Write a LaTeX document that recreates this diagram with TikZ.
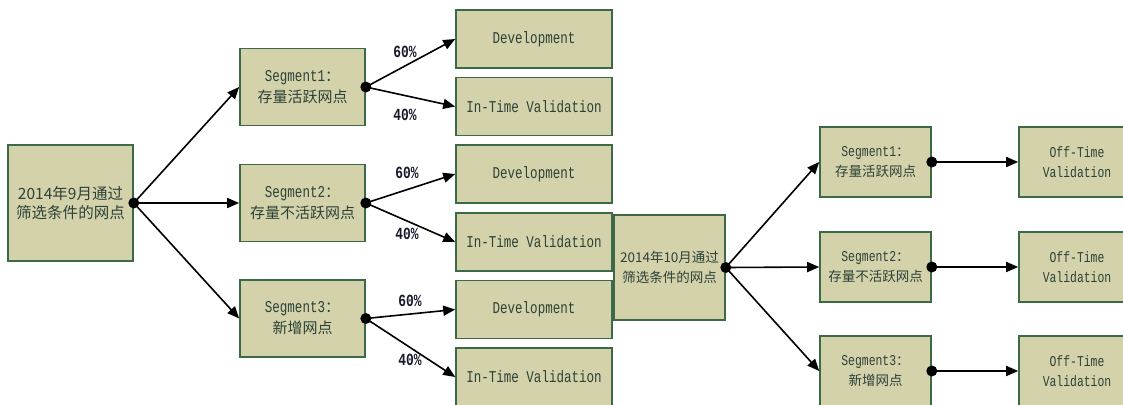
\documentclass[tikz,border=0pt]{standalone}
\usepackage{fontspec}
\newfontfamily\cjk{Noto Sans CJK SC}
\newfontfamily\lat[FakeStretch=0.76]{Liberation Mono}
\usetikzlibrary{arrows.meta}
\definecolor{boxfill}{RGB}{211,210,171}
\definecolor{boxline}{RGB}{60,105,70}
\definecolor{boxtext}{RGB}{45,65,55}
\definecolor{pctc}{RGB}{25,25,45}
\begin{document}
\begin{tikzpicture}[x=1pt,y=-1pt,
  box/.style={draw=boxline, fill=boxfill, line width=1.6pt, inner sep=0pt, align=center, text=boxtext},
  arr/.style={draw=black, line width=1.6pt, -{Triangle[length=12pt,width=10pt]}},
  dot/.style={circle, fill=black, inner sep=0pt, minimum size=11pt},
  pct/.style={font=\lat\bfseries\fontsize{17}{17}\selectfont, text=pctc, inner sep=0pt},
  root/.style={box, font=\cjk\fontsize{15.5}{19}\selectfont},
  seg/.style={box, minimum width=125pt, minimum height=77pt, font=\fontsize{16.5}{21}\selectfont},
  leaf/.style={box, minimum width=156pt, minimum height=58pt, font=\lat\fontsize{16.5}{18}\selectfont},
  segb/.style={box, minimum width=111pt, minimum height=70pt, font=\fontsize{15}{20}\selectfont},
  off/.style={box, minimum width=116pt, minimum height=70pt, font=\lat\fontsize{15}{20}\selectfont}]
\useasboundingbox (0,0) rectangle (1123,404);
\clip (0,0) rectangle (1123,404);

% left tree
\node[root, minimum width=125pt, minimum height=116pt] (r1) at (70.5,203) {2014年9月通过\\筛选条件的网点};
\node[seg] (s1) at (302.5,87) {{\lat Segment1}{\cjk\fontsize{15}{21}\selectfont ：}\\{\cjk\fontsize{15}{21}\selectfont 存量活跃网点}};
\node[seg] (s2) at (302.5,203) {{\lat Segment2}{\cjk\fontsize{15}{21}\selectfont ：}\\{\cjk\fontsize{15}{21}\selectfont 存量不活跃网点}};
\node[seg] (s3) at (302.5,318.5) {{\lat Segment3}{\cjk\fontsize{15}{21}\selectfont ：}\\{\cjk\fontsize{15}{21}\selectfont 新增网点}};
\node[leaf] (d1) at (534,39) {Development};
\node[leaf] (v1) at (534,106.5) {In-Time Validation};
\node[leaf] (d2) at (534,174) {Development};
\node[leaf] (v2) at (534,242) {In-Time Validation};
\node[leaf] (d3) at (534,309.5) {Development};
\node[leaf] (v3) at (534,377) {In-Time Validation};

\node[dot] (p0) at (r1.east) {};
\node[dot] (p1) at (s1.east) {};
\node[dot] (p2) at (s2.east) {};
\node[dot] (p3) at (s3.east) {};
\draw[arr] (p0.center) -- (s1.west);
\draw[arr] (p0.center) -- (s2.west);
\draw[arr] (p0.center) -- (s3.west);
\draw[arr] (p1.center) -- (d1.west);
\draw[arr] (p1.center) -- (v1.west);
\draw[arr] (p2.center) -- (d2.west);
\draw[arr] (p2.center) -- (v2.west);
\draw[arr] (p3.center) -- (d3.west);
\draw[arr] (p3.center) -- (v3.west);

\node[pct] (l1a) at (405,52) {60\%};
\node[pct] (l1b) at (405,115) {40\%};
\node[pct] (l2a) at (407,173) {60\%};
\node[pct] (l2b) at (407,234) {40\%};
\node[pct] (l3a) at (410,301) {60\%};
\node[pct] (l3b) at (410,360) {40\%};

% right tree
\node[root, minimum width=111pt, minimum height=105pt, font=\cjk\fontsize{13.5}{20}\selectfont] (r2) at (669.5,267.5) {2014年10月通过\\筛选条件的网点};
\node[segb] (t1) at (875.5,162) {{\lat Segment1}{\cjk\fontsize{13.5}{20}\selectfont ：}\\{\cjk\fontsize{13.5}{20}\selectfont 存量活跃网点}};
\node[segb] (t2) at (875.5,267) {{\lat Segment2}{\cjk\fontsize{13.5}{20}\selectfont ：}\\{\cjk\fontsize{13.5}{20}\selectfont 存量不活跃网点}};
\node[segb] (t3) at (875.5,371) {{\lat Segment3}{\cjk\fontsize{13.5}{20}\selectfont ：}\\{\cjk\fontsize{13.5}{20}\selectfont 新增网点}};
\node[off] (o1) at (1077,162) {Off-Time\\Validation};
\node[off] (o2) at (1077,267) {Off-Time\\Validation};
\node[off] (o3) at (1077,371) {Off-Time\\Validation};

\node[dot] (q0) at (r2.east) {};
\node[dot] (q1) at (t1.east) {};
\node[dot] (q2) at (t2.east) {};
\node[dot] (q3) at (t3.east) {};
\draw[arr] (q0.center) -- (t1.west);
\draw[arr] (q0.center) -- (t2.west);
\draw[arr] (q0.center) -- (t3.west);
\draw[arr] (q1.center) -- (o1.west);
\draw[arr] (q2.center) -- (o2.west);
\draw[arr] (q3.center) -- (o3.west);
\end{tikzpicture}
\end{document}
